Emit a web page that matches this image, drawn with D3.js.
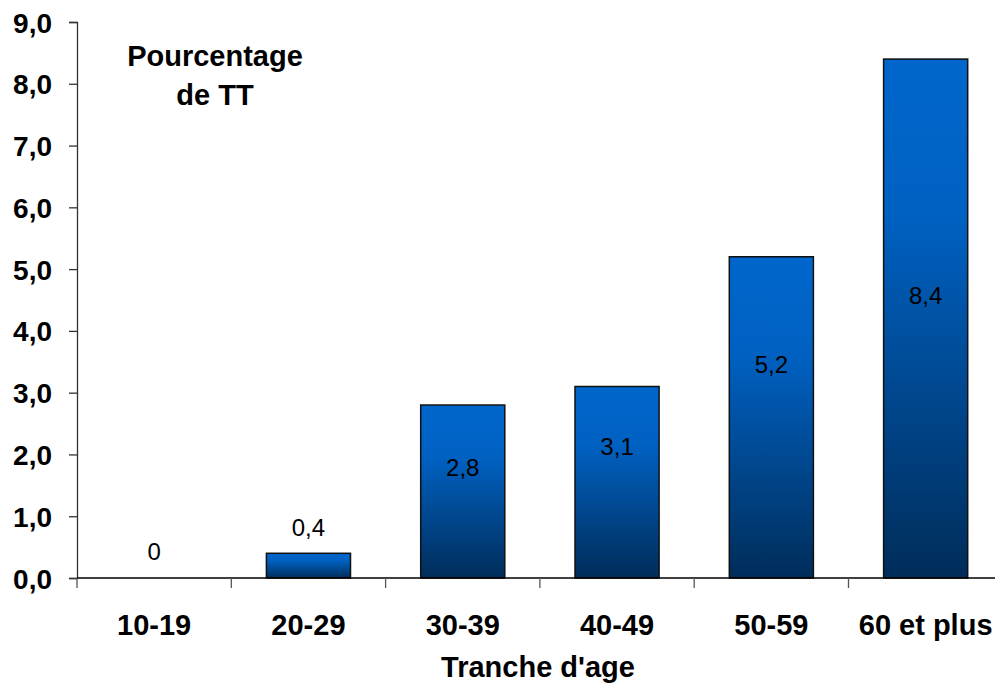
<!DOCTYPE html>
<html>
<head>
<meta charset="utf-8">
<script src="https://cdn.jsdelivr.net/npm/d3@7"></script>
<style>
  body { margin: 0; background: #fff; }
  text { font-family: "Liberation Sans", Arial, sans-serif; }
</style>
</head>
<body>
<div id="chart"></div>
<script>
var width = 995;
var height = 686;

// data
var categories = ["10-19", "20-29", "30-39", "40-49", "50-59", "60 et plus"];
var values = [0, 0.4, 2.8, 3.1, 5.2, 8.4];
var valueLabels = ["0", "0,4", "2,8", "3,1", "5,2", "8,4"];
// where each value label sits, in axis units
var labelAt = [0.43, 0.82, 1.79, 2.13, 3.45, 4.57];
var yTicks = [0, 1, 2, 3, 4, 5, 6, 7, 8, 9];

var svg = d3.select("#chart").append("svg")
    .attr("width", width)
    .attr("height", height);

var defs = svg.append("defs");
var grad = defs.append("linearGradient")
    .attr("id", "barGrad")
    .attr("x1", 0).attr("x2", 0)
    .attr("y1", 0).attr("y2", 1);
grad.append("stop").attr("offset", "0%").attr("stop-color", "#0066CC");
grad.append("stop").attr("offset", "30%").attr("stop-color", "#0061C2");
grad.append("stop").attr("offset", "100%").attr("stop-color", "#002D5A");

var x = d3.scaleBand()
    .domain(categories)
    .range([77, 77 + 6 * 154.3]);

var y = d3.scaleLinear()
    .domain([0, 9])
    .range([578, 22]);

var barW = x.bandwidth() * 0.545;

// y axis
var yAxis = d3.axisLeft(y)
    .tickValues(yTicks)
    .tickSize(8)
    .tickPadding(17)
    .tickFormat(function(d) { return d3.format(".1f")(d).replace(".", ","); });

var gy = svg.append("g")
    .attr("transform", "translate(77,0)")
    .call(yAxis);
gy.select(".domain").attr("stroke", "#333").attr("stroke-width", 1.3);
gy.selectAll(".tick line").attr("stroke", "#333").attr("stroke-width", 1.3);
gy.selectAll(".tick text")
    .attr("font-size", "28px")
    .attr("font-weight", "bold")
    .attr("fill", "#000")
    .attr("dy", "0.36em")
    .attr("font-family", "Liberation Sans, Arial, sans-serif");

// bars
svg.selectAll("rect.bar")
    .data(values)
    .enter()
    .append("rect")
    .attr("class", "bar")
    .attr("x", function(d, i) { return x(categories[i]) + (x.bandwidth() - barW) / 2; })
    .attr("y", function(d) { return y(d); })
    .attr("width", barW)
    .attr("height", function(d) { return y(0) - y(d); })
    .attr("fill", "url(#barGrad)")
    .attr("stroke", function(d) { return d > 0 ? "#111" : "none"; })
    .attr("stroke-width", 1.5);

// x axis line and category ticks
svg.append("line")
    .attr("x1", 77).attr("x2", width)
    .attr("y1", y(0)).attr("y2", y(0))
    .attr("stroke", "#000")
    .attr("stroke-width", 1.5);

svg.selectAll("line.xtick")
    .data(categories)
    .enter()
    .append("line")
    .attr("class", "xtick")
    .attr("x1", function(d) { return x(d); })
    .attr("x2", function(d) { return x(d); })
    .attr("y1", y(0))
    .attr("y2", y(0) + 10)
    .attr("stroke", "#555")
    .attr("stroke-width", 1.3);

svg.selectAll("text.cat")
    .data(categories)
    .enter()
    .append("text")
    .attr("class", "cat")
    .attr("x", function(d) { return x(d) + x.bandwidth() / 2; })
    .attr("y", 635)
    .attr("text-anchor", "middle")
    .attr("font-size", "29px")
    .attr("font-weight", "bold")
    .text(function(d) { return d; });

// value labels
svg.selectAll("text.val")
    .data(valueLabels)
    .enter()
    .append("text")
    .attr("class", "val")
    .attr("x", function(d, i) { return x(categories[i]) + x.bandwidth() / 2; })
    .attr("y", function(d, i) { return y(labelAt[i]) + 8.5; })
    .attr("text-anchor", "middle")
    .attr("font-size", "24px")
    .attr("fill", "#000")
    .text(function(d) { return d; });

// axis title
svg.append("text")
    .attr("x", 538)
    .attr("y", 677)
    .attr("text-anchor", "middle")
    .attr("font-size", "29px")
    .attr("font-weight", "bold")
    .text("Tranche d'age");

// y label inside the plot
svg.append("text")
    .attr("x", 215)
    .attr("y", 66)
    .attr("text-anchor", "middle")
    .attr("font-size", "29px")
    .attr("font-weight", "bold")
    .text("Pourcentage");
svg.append("text")
    .attr("x", 215)
    .attr("y", 105)
    .attr("text-anchor", "middle")
    .attr("font-size", "29px")
    .attr("font-weight", "bold")
    .text("de TT");
</script>
</body>
</html>
